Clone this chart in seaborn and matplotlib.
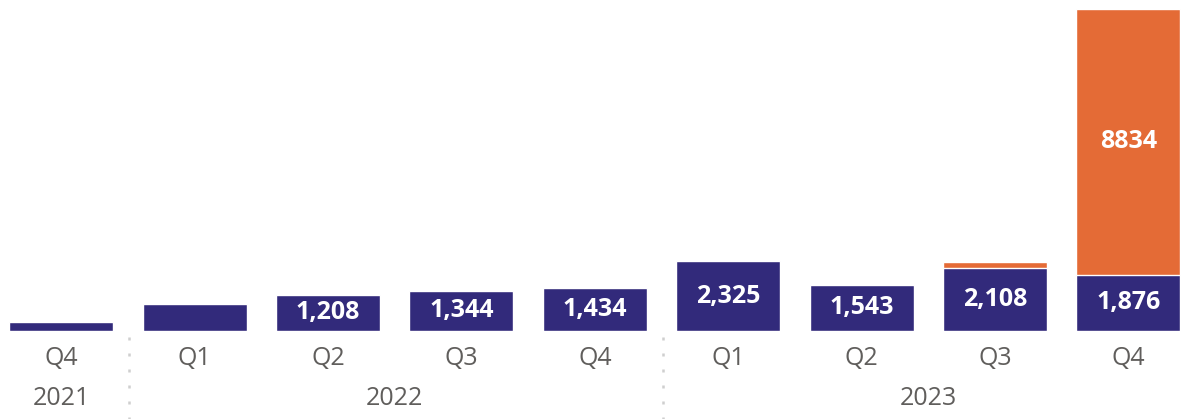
import matplotlib
matplotlib.use("Agg")
import matplotlib.pyplot as plt
import seaborn as sns
import pandas as pd

# Quarterly counts split into two stacked segments
periods = ["2021 Q4", "2022 Q1", "2022 Q2", "2022 Q3", "2022 Q4",
           "2023 Q1", "2023 Q2", "2023 Q3", "2023 Q4"]
quarters = ["Q4", "Q1", "Q2", "Q3", "Q4", "Q1", "Q2", "Q3", "Q4"]
years = ["2021", "2022", "2023"]
year_spans = [(0, 0), (1, 4), (5, 8)]
base_values = [300, 890, 1208, 1344, 1434, 2325, 1543, 2108, 1876]
extra_values = [0, 0, 0, 0, 0, 0, 0, 190, 8834]

NAVY = "#322A7B"
ORANGE = "#E46B36"
TICK_GRAY = "#605E5C"

df = pd.DataFrame({"period": periods, "base": base_values, "extra": extra_values})
df["total"] = df["base"] + df["extra"]

sns.set_theme(style="white")
plt.rcParams["font.family"] = ["Open Sans", "DejaVu Sans"]

fig = plt.figure(figsize=(11.95, 4.19), dpi=100)
ax = fig.add_axes([0, 88 / 419, 1, 331 / 419])

# Stack: draw totals in orange, then the base segment over them in navy
sns.barplot(data=df, x="period", y="total", order=periods, color=ORANGE,
            width=0.78, saturation=1, ax=ax)
sns.barplot(data=df, x="period", y="base", order=periods, color=NAVY,
            width=0.78, saturation=1, ax=ax)

ax.set_xlim(-0.46, 8.5)
ax.set_ylim(0, 11000)
ax.set_xlabel("")
ax.set_ylabel("")
ax.set_xticks([])
ax.set_yticks([])
for s in ax.spines.values():
    s.set_visible(False)

# Value labels inside the segments
for i, (b, e) in enumerate(zip(base_values, extra_values)):
    if b >= 1000:
        ax.text(i, b / 2, f"{b:,}", ha="center", va="center", color="white",
                fontsize=18, fontweight="bold")
    if e >= 1000:
        ax.text(i, b + e / 2, f"{e}", ha="center", va="center", color="white",
                fontsize=18, fontweight="bold")

# Two-level category axis: quarters, then years
xt = ax.get_xaxis_transform()
for i, q in enumerate(quarters):
    ax.text(i, -27 / 331, q, transform=xt, ha="center", va="center",
            color=TICK_GRAY, fontsize=18, clip_on=False)
for y, (a, b) in zip(years, year_spans):
    ax.text((a + b) / 2, -67 / 331, y, transform=xt, ha="center", va="center",
            color=TICK_GRAY, fontsize=18, clip_on=False)

# Dotted separators between years
for x in [0.51, 4.51]:
    ax.plot([x, x], [-6 / 331, -88 / 331], transform=xt, color="#CFCFCF",
            linestyle=(0, (1.2, 5.2)), linewidth=1.8, clip_on=False)

fig.savefig("out.png", dpi=100)
